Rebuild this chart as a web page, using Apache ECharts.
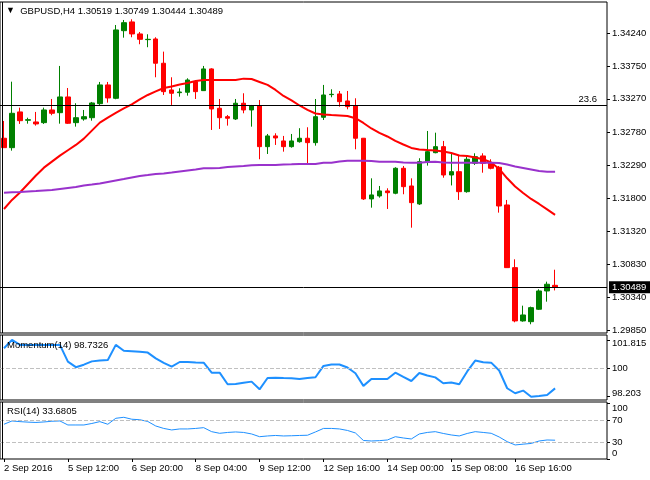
<!DOCTYPE html>
<html>
<head>
<meta charset="utf-8">
<title>GBPUSD H4</title>
<script src="https://cdn.jsdelivr.net/npm/echarts@6/dist/echarts.min.js"></script>
<style>
  html, body { margin: 0; padding: 0; background: #fff; }
  #chart { width: 650px; height: 480px; }
</style>
</head>
<body>
<div id="chart"></div>
<script>
// 时间轴刻度 (每 8 根 K 线一个)
const tickLabels = ['2 Sep 2016', '5 Sep 12:00', '6 Sep 20:00', '8 Sep 04:00', '9 Sep 12:00',
  '12 Sep 16:00', '14 Sep 00:00', '15 Sep 08:00', '16 Sep 16:00']

// K 线
const open = [
  1.32688, 1.32549, 1.33076, 1.32953, 1.32928, 1.32918, 1.33105, 1.33065, 1.33297, 1.32918,
  1.32972, 1.32991, 1.33198, 1.33474, 1.33277, 1.34274, 1.34403, 1.34226, 1.34142, 1.34152,
  1.33794, 1.33400, 1.33360, 1.33366, 1.33522, 1.33390, 1.33710, 1.33130, 1.33006, 1.32972,
  1.33204, 1.33105, 1.33168, 1.32564, 1.32722, 1.32648, 1.32564, 1.32637, 1.32688, 1.32623,
  1.32997, 1.33331, 1.33341, 1.33238, 1.33164, 1.32688, 1.31793, 1.31837, 1.31911, 1.31877,
  1.32245, 1.31984, 1.31719, 1.32343, 1.32475, 1.32564, 1.32146, 1.32195, 1.31900, 1.32319,
  1.32427, 1.32319, 1.32260, 1.31704, 1.30780, 1.29994, 1.29983, 1.30166, 1.30436, 1.30519
]
const high = [
  1.32943, 1.33522, 1.33139, 1.32991, 1.33076, 1.33139, 1.33267, 1.33754, 1.33429, 1.33204,
  1.33105, 1.33223, 1.33518, 1.33518, 1.34358, 1.34432, 1.34442, 1.34255, 1.34221, 1.34177,
  1.33965, 1.33587, 1.33425, 1.33572, 1.33547, 1.33754, 1.33720, 1.33267, 1.33031, 1.33267,
  1.33351, 1.33179, 1.33252, 1.32751, 1.32761, 1.32722, 1.32751, 1.32836, 1.32850, 1.33267,
  1.33474, 1.33410, 1.33385, 1.33385, 1.33277, 1.32692, 1.32097, 1.31984, 1.31950, 1.32260,
  1.32279, 1.32097, 1.32393, 1.32795, 1.32770, 1.32648, 1.32475, 1.32441, 1.32427, 1.32466,
  1.32466, 1.32378, 1.32279, 1.31778, 1.30903, 1.30219, 1.30205, 1.30461, 1.30573, 1.30749
]
const low = [
  1.32545, 1.32505, 1.32899, 1.32903, 1.32874, 1.32899, 1.33027, 1.32903, 1.32899, 1.32859,
  1.32947, 1.32947, 1.33179, 1.33213, 1.33263, 1.34171, 1.34177, 1.34074, 1.34030, 1.33587,
  1.33326, 1.33179, 1.33301, 1.33316, 1.33267, 1.33385, 1.32810, 1.32825, 1.32874, 1.32957,
  1.33056, 1.32859, 1.32378, 1.32456, 1.32589, 1.32490, 1.32549, 1.32623, 1.32319, 1.32579,
  1.32957, 1.33292, 1.33154, 1.33115, 1.32525, 1.31778, 1.31664, 1.31812, 1.31645, 1.31862,
  1.31862, 1.31369, 1.31704, 1.32284, 1.32466, 1.32106, 1.31992, 1.31778, 1.31885, 1.32294,
  1.32180, 1.32230, 1.31591, 1.30775, 1.29974, 1.29983, 1.29945, 1.30156, 1.30278, 1.30444
]
const close = [
  1.32549, 1.33056, 1.32947, 1.32962, 1.32899, 1.33105, 1.33056, 1.33297, 1.32909, 1.32991,
  1.33006, 1.33208, 1.33474, 1.33282, 1.34285, 1.34392, 1.34226, 1.34147, 1.34147, 1.33794,
  1.33375, 1.33351, 1.33370, 1.33547, 1.33375, 1.33710, 1.33120, 1.32991, 1.32983, 1.33204,
  1.33105, 1.33168, 1.32564, 1.32722, 1.32692, 1.32564, 1.32648, 1.32688, 1.32623, 1.33006,
  1.33326, 1.33336, 1.33227, 1.33154, 1.32688, 1.31793, 1.31852, 1.31911, 1.31885, 1.32245,
  1.31974, 1.31738, 1.32343, 1.32490, 1.32564, 1.32146, 1.32195, 1.31900, 1.32378, 1.32416,
  1.32319, 1.32245, 1.31689, 1.30780, 1.29994, 1.30082, 1.30190, 1.30436, 1.30535, 1.30489
]

// 均线 (红: 快线, 紫: 慢线)
const maFast = [
  1.31645, 1.31778, 1.31888, 1.32014, 1.32139, 1.32254, 1.32343, 1.32431, 1.32511, 1.32589,
  1.32682, 1.32800, 1.32918, 1.32993, 1.33062, 1.33127, 1.33186, 1.33260, 1.33326, 1.33378,
  1.33429, 1.33452, 1.33481, 1.33503, 1.33533, 1.33547, 1.33547, 1.33547, 1.33547, 1.33547,
  1.33567, 1.33562, 1.33518, 1.33474, 1.33400, 1.33311, 1.33245, 1.33171, 1.33105, 1.33053,
  1.33039, 1.33031, 1.33024, 1.33016, 1.32983, 1.32913, 1.32832, 1.32766, 1.32714, 1.32648,
  1.32596, 1.32545, 1.32523, 1.32515, 1.32508, 1.32493, 1.32471, 1.32434, 1.32427, 1.32405,
  1.32378, 1.32331, 1.32235, 1.32097, 1.31977, 1.31881, 1.31793, 1.31719, 1.31638, 1.31557
]
const maSlow = [
  1.31885, 1.31891, 1.31896, 1.31903, 1.31910, 1.31918, 1.31925, 1.31940, 1.31955, 1.31969,
  1.31992, 1.32006, 1.32021, 1.32043, 1.32065, 1.32087, 1.32110, 1.32132, 1.32146, 1.32161,
  1.32169, 1.32183, 1.32198, 1.32213, 1.32228, 1.32245, 1.32245, 1.32250, 1.32264, 1.32272,
  1.32279, 1.32290, 1.32294, 1.32294, 1.32294, 1.32301, 1.32304, 1.32309, 1.32309, 1.32309,
  1.32328, 1.32328, 1.32346, 1.32357, 1.32357, 1.32357, 1.32353, 1.32343, 1.32343, 1.32343,
  1.32331, 1.32328, 1.32328, 1.32338, 1.32343, 1.32331, 1.32328, 1.32328, 1.32328, 1.32328,
  1.32328, 1.32328, 1.32323, 1.32301, 1.32272, 1.32250, 1.32228, 1.32205, 1.32195, 1.32195
]

// Momentum(14)
const momentum = [
  101.29, 101.82, 101.50, 101.50, 101.50, 101.50, 101.50, 101.50, 100.43, 100.08,
  100.24, 100.45, 100.51, 100.54, 101.50, 101.13, 101.10, 101.07, 101.01, 100.64,
  100.35, 100.11, 100.41, 100.41, 100.38, 100.37, 99.73, 99.73, 98.99, 99.01,
  99.09, 99.16, 98.67, 99.39, 99.41, 99.39, 99.38, 99.33, 99.39, 99.44,
  100.16, 100.25, 100.25, 100.06, 99.69, 98.89, 99.33, 99.33, 99.33, 99.73,
  99.46, 99.20, 99.71, 99.55, 99.43, 99.06, 99.11, 98.99, 99.81, 100.50,
  100.39, 100.37, 99.87, 98.74, 98.42, 98.59, 98.20, 98.25, 98.31, 98.73
]

// RSI(14)
const rsi = [
  62.3, 68.2, 67.0, 66.1, 65.5, 66.4, 67.7, 68.2, 61.0, 61.0,
  61.0, 63.7, 67.0, 62.3, 73.0, 74.8, 71.3, 70.4, 67.3, 59.2,
  54.8, 52.1, 53.9, 53.9, 54.8, 56.2, 49.0, 46.1, 47.6, 48.5,
  47.6, 44.9, 40.0, 41.3, 42.2, 41.3, 41.7, 42.2, 42.6, 48.5,
  54.8, 54.8, 53.9, 51.2, 46.7, 33.2, 32.3, 32.9, 34.1, 40.0,
  37.7, 35.9, 44.9, 47.6, 49.0, 45.8, 43.1, 41.3, 45.8, 49.0,
  47.6, 46.1, 39.5, 31.1, 25.2, 26.6, 27.9, 32.3, 34.1, 33.68
]

const priceTicks = [1.2985, 1.3034, 1.3083, 1.3132, 1.318, 1.3229, 1.3278, 1.3327, 1.3375, 1.3424]
const momentumTicks = [98.203, 100, 101.815]
const rsiTicks = [0, 30, 70, 100]
const fibLevel = 1.3317
const fibLabel = '23.6'
const momentumLabel = 'Momentum(14) 98.7326'
const rsiLabel = 'RSI(14) 33.6805'

const slots = 76
const categories = Array.from({ length: slots }, (_, i) => String(i))
const candles = open.map((o, i) => [o, close[i], low[i], high[i]])
const last = open.length - 1
const lastPrice = close[last]
const header = 'GBPUSD,H4 ' + [open[last], high[last], low[last], close[last]].map(v => v.toFixed(5)).join(' ')

const font = 'Liberation Sans'
const fs = 9.5

const chart = echarts.init(document.getElementById('chart'))

const baseX = {
  type: 'category',
  data: categories,
  boundaryGap: true,
  axisLine: { show: false },
  axisTick: { show: false },
  axisLabel: { show: false },
  splitLine: { show: false }
}

const rightY = (extra) => Object.assign({
  type: 'value',
  position: 'right',
  scale: true,
  splitLine: { show: false },
  axisLine: { show: false }
}, extra)

const option = {
  animation: false,
  backgroundColor: '#fff',
  textStyle: { fontFamily: font },
  title: [
    {
      text: '{tri|▼}  ' + header,
      left: 6, top: 6, padding: 0,
      textStyle: {
        fontFamily: font, fontSize: fs, fontWeight: 'normal', color: '#000',
        rich: { tri: { fontSize: 9, color: '#000' } }
      }
    },
    {
      text: momentumLabel, left: 7, top: 340, padding: 0,
      textStyle: { fontFamily: font, fontSize: fs, fontWeight: 'normal', color: '#000' }
    },
    {
      text: rsiLabel, left: 7, top: 406, padding: 0,
      textStyle: { fontFamily: font, fontSize: fs, fontWeight: 'normal', color: '#000' }
    }
  ],
  grid: [
    { left: -1, right: 43, top: 2, height: 331, show: true, borderColor: '#000', borderWidth: 1, backgroundColor: '#fff' },
    { left: -1, right: 43, top: 335, height: 65, show: true, borderColor: '#000', borderWidth: 1, backgroundColor: '#fff' },
    { left: -1, right: 43, top: 402, height: 57, show: true, borderColor: '#000', borderWidth: 1, backgroundColor: '#fff' }
  ],
  xAxis: [
    Object.assign({}, baseX, { gridIndex: 0 }),
    Object.assign({}, baseX, { gridIndex: 1 }),
    Object.assign({}, baseX, {
      gridIndex: 2,
      axisTick: {
        show: true,
        alignWithLabel: true,
        length: 3,
        interval: (idx) => idx % 8 === 0 && idx / 8 < tickLabels.length,
        lineStyle: { color: '#000' }
      },
      axisLabel: {
        show: true,
        interval: 0,
        align: 'left',
        margin: 4,
        color: '#000',
        fontFamily: font,
        fontSize: fs,
        formatter: (val, idx) => (idx % 8 === 0 && tickLabels[idx / 8]) ? tickLabels[idx / 8] : ''
      }
    })
  ],
  yAxis: [
    rightY({
      gridIndex: 0,
      min: 1.29816,
      max: 1.34697,
      axisTick: { show: true, length: 3, customValues: priceTicks, lineStyle: { color: '#000' } },
      axisLabel: {
        color: '#000', fontFamily: font, fontSize: fs, margin: 5, hideOverlap: false,
        customValues: priceTicks,
        formatter: v => v.toFixed(5)
      }
    }),
    rightY({
      gridIndex: 1,
      min: 97.99,
      max: 102.13,
      axisTick: { show: true, length: 3, customValues: momentumTicks, lineStyle: { color: '#000' } },
      axisLabel: {
        color: '#000', fontFamily: font, fontSize: fs, margin: 5, hideOverlap: false,
        customValues: momentumTicks,
        formatter: v => v === momentumTicks[2] ? '{dn|' + v + '}' : v === momentumTicks[0] ? '{up|' + v + '}' : String(v),
        rich: { dn: { padding: [6, 0, 0, 0] }, up: { padding: [0, 0, 6, 0] } }
      }
    }),
    rightY({
      gridIndex: 2,
      min: 0,
      max: 102.2,
      axisTick: { show: true, length: 3, customValues: rsiTicks, lineStyle: { color: '#000' } },
      axisLabel: {
        color: '#000', fontFamily: font, fontSize: fs, margin: 5, hideOverlap: false,
        customValues: rsiTicks,
        formatter: v => v === 100 ? '{dn|100}' : v === 0 ? '{up|0}' : String(v),
        rich: { dn: { padding: [10, 0, 0, 0] }, up: { padding: [0, 0, 11, 0] } }
      }
    })
  ],
  series: [
    {
      name: 'GBPUSD',
      type: 'candlestick',
      xAxisIndex: 0,
      yAxisIndex: 0,
      data: candles,
      barWidth: 5,
      clip: true,
      itemStyle: {
        color: '#008000',
        color0: '#ff0000',
        borderColor: '#008000',
        borderColor0: '#ff0000',
        borderWidth: 1
      },
      markLine: {
        silent: true,
        symbol: 'none',
        precision: 5,
        animation: false,
        lineStyle: { color: '#000', width: 1, type: 'solid' },
        data: [
          {
            yAxis: lastPrice,
            label: {
              show: true,
              position: 'end',
              distance: 2,
              formatter: lastPrice.toFixed(5),
              color: '#fff',
              backgroundColor: '#000',
              padding: [1, 8, 1, 3],
              fontFamily: font,
              fontSize: fs
            }
          },
          {
            yAxis: fibLevel,
            label: {
              show: true,
              position: 'insideEndTop',
              distance: [10, 1],
              formatter: fibLabel,
              color: '#000',
              fontFamily: font,
              fontSize: fs
            }
          }
        ]
      }
    },
    {
      name: 'MA fast',
      type: 'line',
      xAxisIndex: 0,
      yAxisIndex: 0,
      data: maFast,
      symbol: 'none',
      z: 3,
      lineStyle: { color: '#ff0000', width: 2 }
    },
    {
      name: 'MA slow',
      type: 'line',
      xAxisIndex: 0,
      yAxisIndex: 0,
      data: maSlow,
      symbol: 'none',
      z: 3,
      lineStyle: { color: '#9932cc', width: 2 }
    },
    {
      name: 'Momentum',
      type: 'line',
      xAxisIndex: 1,
      yAxisIndex: 1,
      data: momentum,
      symbol: 'none',
      lineStyle: { color: '#1e90ff', width: 2 },
      markLine: {
        silent: true,
        symbol: 'none',
        label: { show: false },
        lineStyle: { color: '#c0c0c0', width: 1, type: 'dashed' },
        data: [{ yAxis: 100 }]
      }
    },
    {
      name: 'RSI',
      type: 'line',
      xAxisIndex: 2,
      yAxisIndex: 2,
      data: rsi,
      symbol: 'none',
      lineStyle: { color: '#1e90ff', width: 1 },
      markLine: {
        silent: true,
        symbol: 'none',
        label: { show: false },
        lineStyle: { color: '#c0c0c0', width: 1, type: 'dashed' },
        data: [{ yAxis: 70 }, { yAxis: 30 }]
      }
    }
  ],
  // 左侧边框 (网格左边界在画布外)
  graphic: [
    { type: 'line', z: 100, shape: { x1: 2.5, y1: 2, x2: 2.5, y2: 333 }, style: { stroke: '#000', lineWidth: 1 } },
    { type: 'line', z: 100, shape: { x1: 2.5, y1: 335, x2: 2.5, y2: 400 }, style: { stroke: '#000', lineWidth: 1 } },
    { type: 'line', z: 100, shape: { x1: 2.5, y1: 402, x2: 2.5, y2: 459 }, style: { stroke: '#000', lineWidth: 1 } }
  ]
}

chart.setOption(option)

window.addEventListener('resize', () => chart.resize())
</script>
</body>
</html>
